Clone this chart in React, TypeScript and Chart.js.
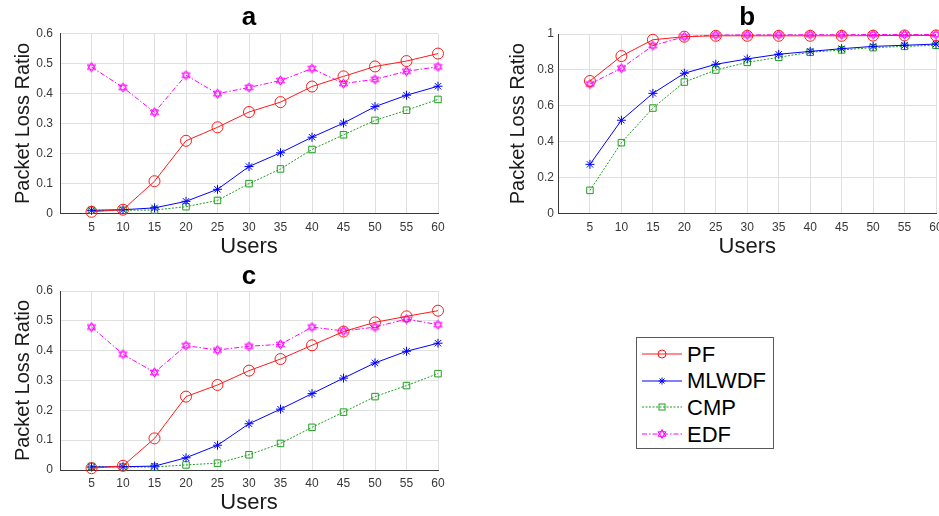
import React, { useEffect, useRef } from 'react';
import { Chart, registerables } from 'chart.js';

Chart.register(...registerables);

// ---------------- data ----------------
const USERS = [5, 10, 15, 20, 25, 30, 35, 40, 45, 50, 55, 60];
const SERIES_NAMES = ['PF', 'MLWDF', 'CMP', 'EDF'];
const Y_LABEL = 'Packet Loss Ratio';
const X_LABEL = 'Users';

const A_PF = [0.005, 0.012, 0.107, 0.242, 0.287, 0.338, 0.371, 0.423, 0.457, 0.49, 0.508, 0.533];
const A_MLWDF = [0.01, 0.012, 0.018, 0.04, 0.08, 0.156, 0.202, 0.254, 0.301, 0.356, 0.394, 0.424];
const A_CMP = [0.01, 0.01, 0.011, 0.022, 0.043, 0.099, 0.148, 0.213, 0.262, 0.31, 0.344, 0.38];
const A_EDF = [0.488, 0.42, 0.337, 0.461, 0.399, 0.42, 0.443, 0.483, 0.433, 0.447, 0.474, 0.489];

const B_PF = [0.738, 0.877, 0.968, 0.985, 0.99, 0.99, 0.99, 0.99, 0.99, 0.991, 0.992, 0.992];
const B_MLWDF = [0.273, 0.519, 0.669, 0.781, 0.831, 0.861, 0.887, 0.903, 0.918, 0.931, 0.937, 0.944];
const B_CMP = [0.128, 0.394, 0.587, 0.732, 0.799, 0.842, 0.87, 0.898, 0.911, 0.924, 0.931, 0.937];
const B_EDF = [0.721, 0.809, 0.935, 0.985, 0.994, 0.995, 0.995, 0.996, 0.996, 0.997, 0.997, 0.997];

const C_PF = [0.006, 0.014, 0.106, 0.246, 0.285, 0.333, 0.372, 0.418, 0.464, 0.495, 0.515, 0.534];
const C_MLWDF = [0.01, 0.011, 0.013, 0.041, 0.083, 0.155, 0.204, 0.256, 0.308, 0.359, 0.398, 0.425];
const C_CMP = [0.012, 0.01, 0.01, 0.017, 0.023, 0.051, 0.089, 0.143, 0.194, 0.246, 0.283, 0.323];
const C_EDF = [0.479, 0.388, 0.327, 0.417, 0.402, 0.415, 0.421, 0.479, 0.466, 0.479, 0.506, 0.487];

// ---------------- styles ----------------
const FONT = "'Liberation Sans', Arial, Helvetica, sans-serif";
const PF_COLOR = '#ff1a1a';
const MLWDF_COLOR = '#0000ff';
const CMP_COLOR = '#1ea01e';
const EDF_COLOR = '#ff00ff';
const GRID = '#e0e0e0';
const AXIS = '#3a3a3a';
const TICK = '#383838';
const CMP_DASH = [2, 1.5];
const EDF_DASH = [5, 2, 1.5, 2];

function makeHexagram(color: string, size: number) {
  const c = document.createElement('canvas');
  c.width = size;
  c.height = size;
  const ctx = c.getContext('2d')!;
  const r = size / 2 - 0.8;
  const cx = size / 2;
  const cy = size / 2;
  ctx.strokeStyle = color;
  ctx.lineWidth = 1;
  for (const rot of [-Math.PI / 2, Math.PI / 2]) {
    ctx.beginPath();
    for (let i = 0; i < 3; i++) {
      const a = rot + (i * 2 * Math.PI) / 3;
      const px = cx + r * Math.cos(a);
      const py = cy + r * Math.sin(a);
      if (i === 0) ctx.moveTo(px, py);
      else ctx.lineTo(px, py);
    }
    ctx.closePath();
    ctx.stroke();
  }
  return c;
}

type Layout = {
  x: number; y: number; w: number; h: number;
  yWidth: number; padRight: number;
  titleTop: number; titleBottom: number;
  xHeight: number; xTitlePad: number; xTickPad: number;
  yTickPad: number; yTitlePad: number;
};

function Panel(props: {
  lay: Layout; title: string;
  pf: number[]; mlwdf: number[]; cmp: number[]; edf: number[];
  yMax: number; yStep: number; yDigits: number;
}) {
  const ref = useRef<HTMLCanvasElement | null>(null);
  const { lay } = props;
  useEffect(() => {
    const hex = makeHexagram(EDF_COLOR, 11);
    const mk = (arr: number[]) => USERS.map((u, i) => ({ x: u, y: arr[i] }));
    const chart = new Chart(ref.current!, {
      type: 'line',
      data: {
        datasets: [
          {
            label: SERIES_NAMES[0], data: mk(props.pf), borderColor: PF_COLOR, backgroundColor: 'transparent',
            borderWidth: 1, pointStyle: 'circle', pointRadius: 5.5, pointBorderColor: PF_COLOR,
            pointBackgroundColor: 'rgba(0,0,0,0)', pointBorderWidth: 1, clip: false,
          },
          {
            label: SERIES_NAMES[1], data: mk(props.mlwdf), borderColor: MLWDF_COLOR, backgroundColor: 'transparent',
            borderWidth: 1, pointStyle: 'star', pointRadius: 4.5, pointBorderColor: MLWDF_COLOR,
            pointBackgroundColor: MLWDF_COLOR, pointBorderWidth: 1, clip: false,
          },
          {
            label: SERIES_NAMES[2], data: mk(props.cmp), borderColor: CMP_COLOR, backgroundColor: 'transparent',
            borderWidth: 1, borderDash: CMP_DASH, pointStyle: 'rect', pointRadius: 4.6, pointBorderColor: CMP_COLOR,
            pointBackgroundColor: 'rgba(0,0,0,0)', pointBorderWidth: 1, clip: false,
          },
          {
            label: SERIES_NAMES[3], data: mk(props.edf), borderColor: EDF_COLOR, backgroundColor: 'transparent',
            borderWidth: 1, borderDash: EDF_DASH, pointStyle: hex as any, pointRadius: 5, pointBorderColor: EDF_COLOR,
            pointBackgroundColor: 'rgba(0,0,0,0)', pointBorderWidth: 1, clip: false,
          },
        ],
      },
      options: {
        animation: false,
        responsive: false,
        maintainAspectRatio: false,
        events: [],
        layout: { padding: { left: 0, right: lay.padRight, top: 0, bottom: 0 } },
        plugins: {
          legend: { display: false },
          tooltip: { enabled: false },
          title: {
            display: true, text: props.title, fullSize: false, color: '#000',
            font: { family: FONT, size: 26, weight: 'bold', lineHeight: 1 },
            padding: { top: lay.titleTop, bottom: lay.titleBottom },
          },
        },
        scales: {
          x: {
            type: 'linear', min: 0, max: 60,
            ticks: {
              stepSize: 5, autoSkip: false, maxRotation: 0, padding: lay.xTickPad, color: TICK,
              font: { family: FONT, size: 12 },
              callback: (v: any) => (v === 0 ? '' : String(v)),
            },
            grid: { color: GRID, drawTicks: false, lineWidth: 1 },
            border: { color: AXIS, width: 1 },
            title: {
              display: true, text: X_LABEL, color: '#1a1a1a',
              font: { family: FONT, size: 22, lineHeight: 1 },
              padding: { top: 0, bottom: lay.xTitlePad },
            },
            afterFit: (s: any) => { s.height = lay.xHeight; },
          },
          y: {
            type: 'linear', min: 0, max: props.yMax,
            ticks: {
              stepSize: props.yStep, padding: lay.yTickPad, color: TICK,
              font: { family: FONT, size: 12 },
              callback: (v: any) => String(+Number(v).toFixed(props.yDigits)),
            },
            grid: { color: GRID, drawTicks: false, lineWidth: 1 },
            border: { color: AXIS, width: 1 },
            title: {
              display: true, text: Y_LABEL, color: '#1a1a1a',
              font: { family: FONT, size: 20, lineHeight: 1 },
              padding: { top: lay.yTitlePad, bottom: 0 },
            },
            afterFit: (s: any) => { s.width = lay.yWidth; },
          },
        },
      } as any,
    });
    return () => chart.destroy();
  }, []);
  return (
    <canvas
      ref={ref}
      width={lay.w}
      height={lay.h}
      style={{ position: 'absolute', left: lay.x, top: lay.y, width: lay.w, height: lay.h }}
    />
  );
}

const LAY_A: Layout = {
  x: 0, y: 0, w: 460, h: 260, yWidth: 60, padRight: 22,
  titleTop: 4.5, titleBottom: 3, xHeight: 46.7, xTitlePad: 2, xTickPad: 7, yTickPad: 7, yTitlePad: 13,
};
const LAY_B: Layout = {
  x: 480, y: 0, w: 470, h: 260, yWidth: 78.5, padRight: 14,
  titleTop: 4.5, titleBottom: 3.5, xHeight: 46.7, xTitlePad: 2, xTickPad: 7, yTickPad: 4.5, yTitlePad: 28,
};
const LAY_C: Layout = {
  x: 0, y: 260, w: 460, h: 256, yWidth: 60, padRight: 22,
  titleTop: 3.4, titleBottom: 1.6, xHeight: 46, xTitlePad: 2, xTickPad: 6, yTickPad: 7, yTitlePad: 13,
};

function LegendIcon(props: { color: string; dash?: number[]; marker: string }) {
  const { color, dash, marker } = props;
  const cx = 20, cy = 10;
  let m: any = null;
  if (marker === 'circle') m = <circle cx={cx} cy={cy} r={4} fill="none" stroke={color} strokeWidth={1} />;
  else if (marker === 'star') {
    const r = 3.5, d = r * Math.SQRT1_2;
    m = (
      <g stroke={color} strokeWidth={1}>
        <line x1={cx - r} y1={cy} x2={cx + r} y2={cy} />
        <line x1={cx} y1={cy - r} x2={cx} y2={cy + r} />
        <line x1={cx - d} y1={cy - d} x2={cx + d} y2={cy + d} />
        <line x1={cx - d} y1={cy + d} x2={cx + d} y2={cy - d} />
      </g>
    );
  } else if (marker === 'rect') m = <rect x={cx - 3} y={cy - 3} width={6} height={6} fill="none" stroke={color} strokeWidth={1} />;
  else {
    const r = 4.5;
    const tri = (rot: number) =>
      [0, 1, 2].map((i) => {
        const a = rot + (i * 2 * Math.PI) / 3;
        return `${cx + r * Math.cos(a)},${cy + r * Math.sin(a)}`;
      }).join(' ');
    m = (
      <g fill="none" stroke={color} strokeWidth={1}>
        <polygon points={tri(-Math.PI / 2)} />
        <polygon points={tri(Math.PI / 2)} />
      </g>
    );
  }
  return (
    <svg width={40} height={20} style={{ position: 'absolute', left: 0, top: 0 }}>
      <line x1={0} y1={cy} x2={40} y2={cy} stroke={color} strokeWidth={1} strokeDasharray={dash ? dash.join(' ') : undefined} />
      {m}
    </svg>
  );
}

function Legend() {
  const rows = [
    { name: SERIES_NAMES[0], color: PF_COLOR, marker: 'circle' },
    { name: SERIES_NAMES[1], color: MLWDF_COLOR, marker: 'star' },
    { name: SERIES_NAMES[2], color: CMP_COLOR, marker: 'rect', dash: CMP_DASH },
    { name: SERIES_NAMES[3], color: EDF_COLOR, marker: 'hex', dash: EDF_DASH },
  ];
  return (
    <div
      style={{
        position: 'absolute', left: 636, top: 337, width: 136, height: 110,
        border: '1px solid #5a5a5a', background: '#fff', fontFamily: FONT,
      }}
    >
      {rows.map((r, i) => (
        <div key={r.name} style={{ position: 'absolute', left: 5, top: 6 + i * 26.7, height: 20, width: 128 }}>
          <LegendIcon color={r.color} dash={r.dash} marker={r.marker} />
          <span
            style={{
              position: 'absolute', left: 45, top: -2.5, fontSize: 22, lineHeight: '25px', color: '#000', whiteSpace: 'nowrap',
            }}
          >
            {r.name}
          </span>
        </div>
      ))}
    </div>
  );
}

export default function App() {
  return (
    <div style={{ position: 'absolute', left: 0, top: 0, width: 939, height: 516, overflow: 'hidden', background: '#fff' }}>
      <Panel lay={LAY_A} title="a" pf={A_PF} mlwdf={A_MLWDF} cmp={A_CMP} edf={A_EDF} yMax={0.6} yStep={0.1} yDigits={1} />
      <Panel lay={LAY_B} title="b" pf={B_PF} mlwdf={B_MLWDF} cmp={B_CMP} edf={B_EDF} yMax={1} yStep={0.2} yDigits={1} />
      <Panel lay={LAY_C} title="c" pf={C_PF} mlwdf={C_MLWDF} cmp={C_CMP} edf={C_EDF} yMax={0.6} yStep={0.1} yDigits={1} />
      <Legend />
    </div>
  );
}
